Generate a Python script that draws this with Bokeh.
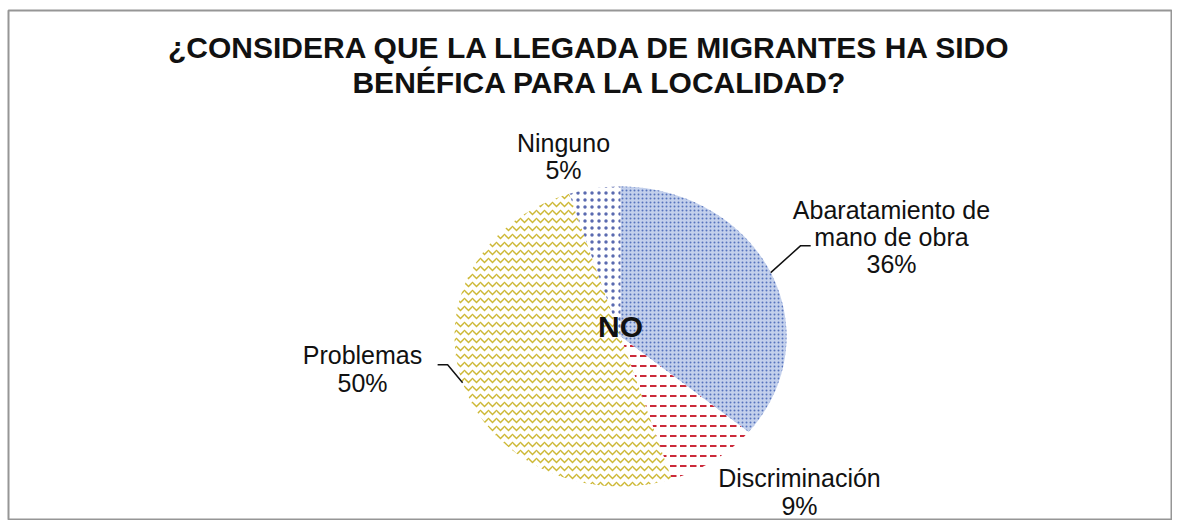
import numpy as np
from bokeh.plotting import figure
from bokeh.models import Range1d, ColumnDataSource
from bokeh.core.properties import value
from bokeh.embed import file_html
from bokeh.resources import INLINE

# ---- data ----
title_lines = ["¿CONSIDERA QUE LA LLEGADA DE MIGRANTES HA SIDO",
               "BENÉFICA PARA LA LOCALIDAD?"]
categories = ["Abaratamiento de mano de obra", "Discriminación", "Problemas", "Ninguno"]
label_names = ["Abaratamiento de\nmano de obra", "Discriminación", "Problemas", "Ninguno"]
values = [36, 9, 50, 5]
center_label = "NO"

# ---- layout ----
W, H = 1172, 520
L, T = 8, 10
FONT = value("Liberation Sans")
p = figure(width=W, height=H, x_range=Range1d(L, W), y_range=Range1d(H, T),
           output_backend="svg", toolbar_location=None,
           min_border_left=L, min_border_top=T, min_border_right=0, min_border_bottom=0)
p.axis.visible = False
p.grid.visible = False
p.outline_line_color = "#969696"
p.outline_line_width = 2
p.background_fill_color = "white"
p.border_fill_color = "white"

cx, cy, rx, ry = 620, 336, 166, 150
frac = np.array(values, dtype=float) / sum(values)
ends = np.cumsum(frac) * 2 * np.pi
starts = ends - frac * 2 * np.pi
mids = (starts + ends) / 2

styles = [
    dict(fill_color="#c3d0ec", hatch_pattern="dot", hatch_color="#5673bd", hatch_scale=4, hatch_weight=1),
    dict(fill_color="white", hatch_pattern="horizontal_dash", hatch_color="#cc2a3a", hatch_scale=10, hatch_weight=2),
    dict(fill_color="white", hatch_pattern="horizontal_wave", hatch_color="#cdb835", hatch_scale=8, hatch_weight=1.5),
    dict(fill_color="white", hatch_pattern="dot", hatch_color="#5a6ab0", hatch_scale=7, hatch_weight=0.5),
]
for s, e, st in zip(starts, ends, styles):
    t = np.linspace(s, e, 160)
    xs = np.concatenate([[cx], cx + rx * np.sin(t)])
    ys = np.concatenate([[cy], cy - ry * np.cos(t)])
    p.patch(xs, ys, line_color=None, **st)

# labels
label_pos = [(891, 236.5), (799, 491.5), (362, 368.5), (563, 156)]
texts = [f"{n}\n{v}%" for n, v in zip(label_names, values)]
src = ColumnDataSource(dict(x=[q[0] for q in label_pos], y=[q[1] for q in label_pos], text=texts))
p.text(x="x", y="y", text="text", source=src, text_font=FONT, text_font_size="25px",
       text_align="center", text_baseline="middle", text_line_height=0.98, text_color="#111111")

# leader lines (from slice mid-angle on the rim to the label)
elbows = {0: ((30, -27), (40, -27)), 2: ((-15, -18), (-25, -18))}
lx, ly = [], []
for i, ((dx1, dy1), (dx2, dy2)) in elbows.items():
    x0 = cx + rx * np.sin(mids[i])
    y0 = cy - ry * np.cos(mids[i])
    lx.append([x0, x0 + dx1, x0 + dx2])
    ly.append([y0, y0 + dy1, y0 + dy2])
p.multi_line(lx, ly, line_color="#111111", line_width=1.5)

# center label
p.text(x=[cx], y=[326], text=[center_label], text_font=FONT, text_font_size="30px",
       text_font_style="bold", text_align="center", text_baseline="middle", text_color="#111111")

# title
p.text(x=[590, 600], y=[47, 82], text=title_lines, text_font=FONT, text_font_size="30px",
       text_font_style="bold", text_align="center", text_baseline="middle", text_color="#111111")

open("out.html", "w").write(file_html(p, INLINE))
